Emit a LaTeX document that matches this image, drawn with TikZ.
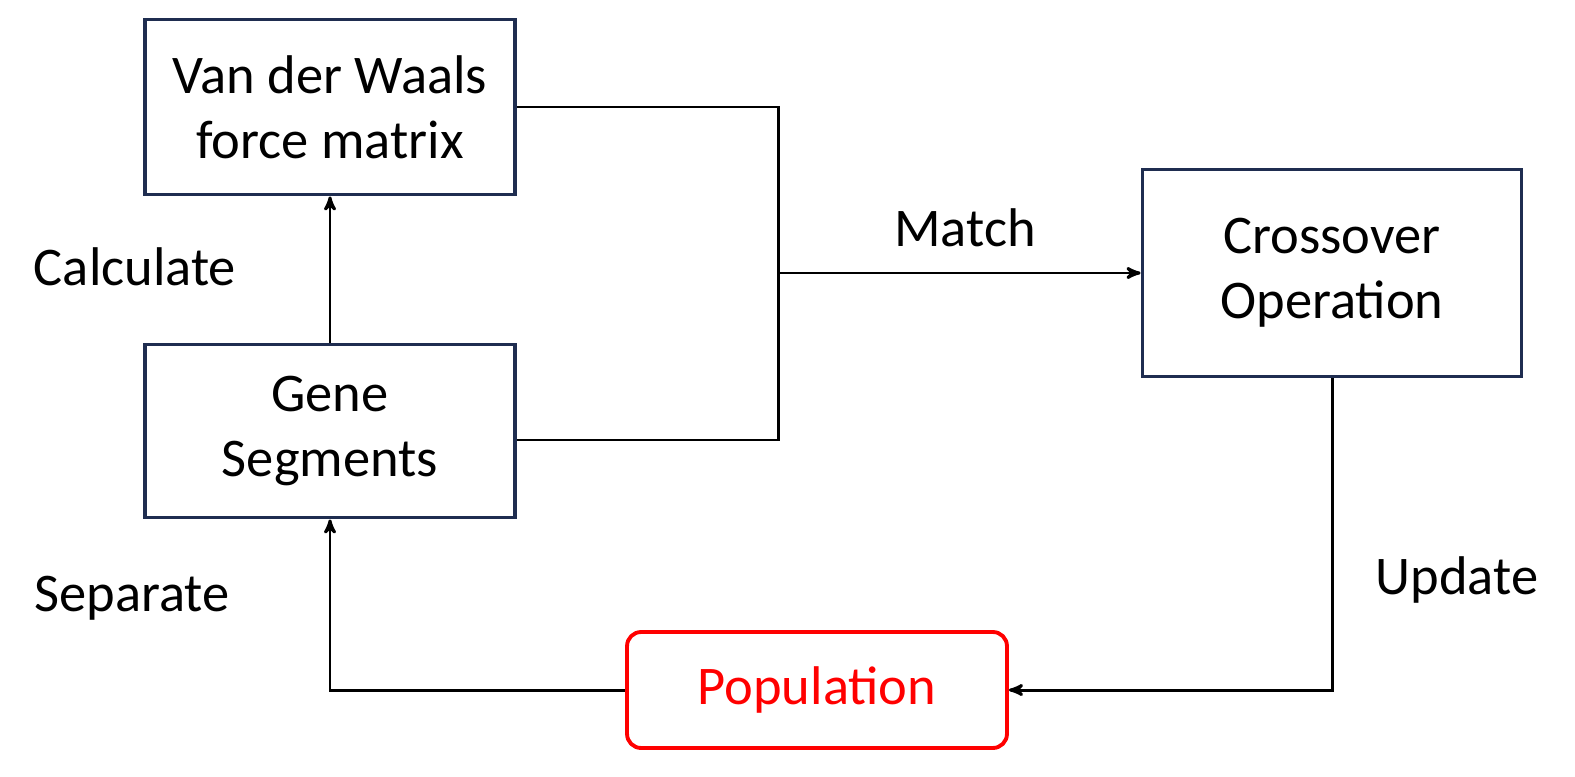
\documentclass[tikz,border=0pt]{standalone}
\usepackage{fontspec}
\setmainfont{Carlito}
\usetikzlibrary{arrows}
\definecolor{boxnavy}{HTML}{1F2D50}
\tikzset{
        stepbox/.style = {draw=boxnavy, line width=2.2pt, rectangle, align=center,
            font=\fontsize{31}{37}\selectfont, inner sep=0pt},
        popbox/.style = {draw=red, text=red, line width=2.2pt, rectangle,
            rounded corners=8pt, align=center, font=\fontsize{31}{37}\selectfont},
        steplabel/.style = {font=\fontsize{31}{37}\selectfont}
    }
\begin{document}
\begin{tikzpicture}[x=0.02cm,y=-0.02cm,->,>=stealth',line width=1.7pt]
            \useasboundingbox (0,0) rectangle (1575,777);
            % boxes
            \node [stepbox, minimum width=7.4cm, minimum height=3.5cm] (vdw) at (330,107) {Van der Waals\\force matrix};
            \node [stepbox, minimum width=7.4cm, minimum height=3.46cm] (gene) at (330,431) {Gene\\Segments};
            \node [stepbox, minimum width=7.58cm, minimum height=4.14cm] (cross) at (1332,273) {Crossover\\Operation};
            \node [popbox, minimum width=7.6cm, minimum height=2.32cm] (pop) at (817,690) {Population};
            % junction points
            \coordinate (j1) at (778,107);
            \coordinate (j2) at (778,440);
            \coordinate (jm) at (778,273);
            % connectors
            \draw [-] (vdw.east |- j1) -- (j1) -- (j2) -- (gene.east |- j2);
            \draw (jm) -- (cross.west |- jm);
            \draw (gene) -- (vdw);
            \draw (cross.south) |- (pop.east);
            \draw (pop.west) -| (gene.south);
            % labels
            \node [steplabel] (calc) at (135,267) {Calculate};
            \node [steplabel] (match) at (965,228) {Match};
            \node [steplabel] (sep) at (132,598) {Separate};
            \node [steplabel] (upd) at (1457,580) {Update};
        \end{tikzpicture}
\end{document}
